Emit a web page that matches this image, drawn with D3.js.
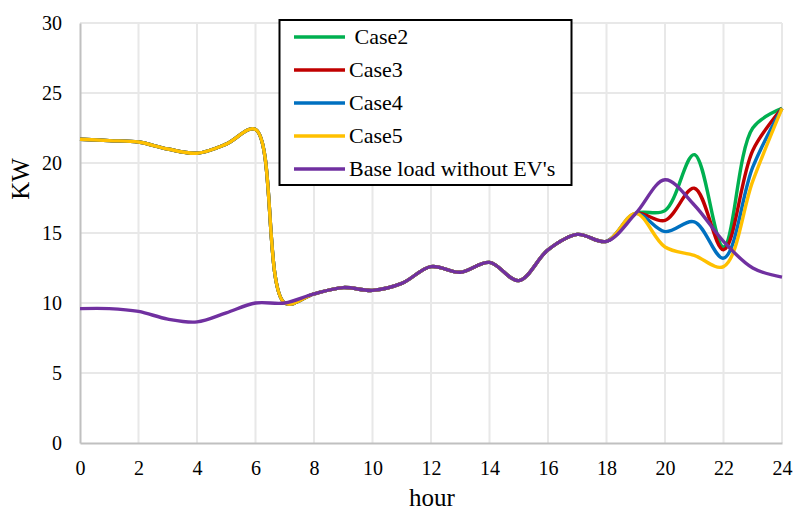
<!DOCTYPE html>
<html>
<head>
<meta charset="utf-8">
<script src="https://cdn.jsdelivr.net/npm/d3@7"></script>
<style>
  body { margin: 0; background: #fff; }
  svg text { font-family: "Liberation Serif", "Times New Roman", serif; fill: #000; }
</style>
</head>
<body>
<svg id="chart" width="795" height="511"></svg>
<script>
"use strict"
var hours = d3.range(0, 25);
var xTicks = [0, 2, 4, 6, 8, 10, 12, 14, 16, 18, 20, 22, 24];
var yTicks = [0, 5, 10, 15, 20, 25, 30];

// hourly load
var baseLoad = [9.6, 9.6, 9.4, 8.85, 8.65, 9.3, 10.0, 10.0, 10.65, 11.1, 10.9, 11.4, 12.6, 12.2, 12.9, 11.6, 13.8, 14.9, 14.4, 16.4, 18.8, 17.0, 14.4, 12.5, 11.85];
var case2 = [21.7, 21.6, 21.5, 21.0, 20.7, 21.35, 22.4, 10.0, 10.65, 11.1, 10.9, 11.4, 12.6, 12.2, 12.9, 11.6, 13.8, 14.9, 14.4, 16.4, 16.6, 20.6, 14.0, 22.5, 23.9];
var case3 = [21.7, 21.6, 21.5, 21.0, 20.7, 21.35, 22.4, 10.0, 10.65, 11.1, 10.9, 11.4, 12.6, 12.2, 12.9, 11.6, 13.8, 14.9, 14.4, 16.4, 15.9, 18.2, 13.8, 20.9, 23.9];
var case4 = [21.7, 21.6, 21.5, 21.0, 20.7, 21.35, 22.4, 10.0, 10.65, 11.1, 10.9, 11.4, 12.6, 12.2, 12.9, 11.6, 13.8, 14.9, 14.4, 16.4, 15.1, 15.8, 13.2, 19.7, 23.9];
var case5 = [21.7, 21.6, 21.5, 21.0, 20.7, 21.35, 22.4, 10.0, 10.65, 11.1, 10.9, 11.4, 12.6, 12.2, 12.9, 11.6, 13.8, 14.9, 14.4, 16.4, 14.0, 13.4, 12.6, 18.7, 23.9];

var seriesNames = [" Case2", "Case3", "Case4", "Case5", "Base load without EV's"];
var seriesColors = ["#00b050", "#c00000", "#0070c0", "#ffc000", "#7030a0"];
var seriesValues = [case2, case3, case4, case5, baseLoad];

var svg = d3.select("svg#chart");

var x = d3.scaleLinear().domain([0, 24]).range([80, 782]);
var y = d3.scaleLinear().domain([0, 30]).range([443, 23]);

// grid
svg.append("g")
    .attr("class", "grid-y")
  .selectAll("line")
    .data(yTicks.filter(function(d) { return d > 0; }))
  .enter().append("line")
    .attr("x1", x(0)).attr("x2", x(24))
    .attr("y1", function(d) { return y(d); })
    .attr("y2", function(d) { return y(d); })
    .style("stroke", "#e8e8e8").style("stroke-width", 2);

svg.append("g")
    .attr("class", "grid-x")
  .selectAll("line")
    .data(xTicks.filter(function(d) { return d > 0; }))
  .enter().append("line")
    .attr("x1", function(d) { return x(d); })
    .attr("x2", function(d) { return x(d); })
    .attr("y1", y(0)).attr("y2", y(30))
    .style("stroke", "#e8e8e8").style("stroke-width", 2);

// axes
var xAxis = svg.append("g")
    .attr("transform", "translate(0," + y(0) + ")")
    .call(d3.axisBottom(x).tickValues(xTicks).tickSize(0).tickPadding(18));
xAxis.select(".domain").style("stroke", "#c0c0c0").style("stroke-width", 2);
xAxis.selectAll("text").style("font-size", "20px").style("font-family", "'Liberation Serif', serif");

var yAxis = svg.append("g")
    .attr("transform", "translate(" + x(0) + ",0)")
    .call(d3.axisLeft(y).tickValues(yTicks).tickSize(0).tickPadding(18));
yAxis.select(".domain").style("stroke", "#c0c0c0").style("stroke-width", 2);
yAxis.selectAll("text").style("font-size", "20px").style("font-family", "'Liberation Serif', serif");

svg.append("text")
    .attr("x", 432).attr("y", 506)
    .attr("text-anchor", "middle")
    .style("font-size", "25px")
    .text("hour");

svg.append("text")
    .attr("transform", "translate(29,179) rotate(-90)")
    .attr("text-anchor", "middle")
    .style("font-size", "25px")
    .text("KW");

// lines
var line = d3.line()
    .x(function(d, i) { return x(hours[i]); })
    .y(function(d) { return y(d); })
    .curve(d3.curveCatmullRom.alpha(0.5));

svg.append("g")
    .attr("class", "series")
  .selectAll("path")
    .data(seriesValues)
  .enter().append("path")
    .attr("d", line)
    .style("fill", "none")
    .style("stroke", function(d, i) { return seriesColors[i]; })
    .style("stroke-width", 3.4)
    .style("stroke-linejoin", "round");

// legend
var legend = svg.append("g").attr("class", "legend");
legend.append("rect")
    .attr("x", 279.5).attr("y", 20)
    .attr("width", 292).attr("height", 165)
    .style("fill", "#fff").style("stroke", "#000").style("stroke-width", 2);

var rows = legend.selectAll("g.row")
    .data(seriesNames)
  .enter().append("g")
    .attr("class", "row")
    .attr("transform", function(d, i) { return "translate(0," + (37 + i * 33) + ")"; });

rows.append("line")
    .attr("x1", 294).attr("x2", 345)
    .style("stroke", function(d, i) { return seriesColors[i]; })
    .style("stroke-width", 3.5);

rows.append("text")
    .attr("x", 349).attr("y", 0)
    .attr("dy", "0.33em")
    .style("font-size", "22px")
    .style("white-space", "pre")
    .text(function(d) { return d; });
</script>
</body>
</html>
